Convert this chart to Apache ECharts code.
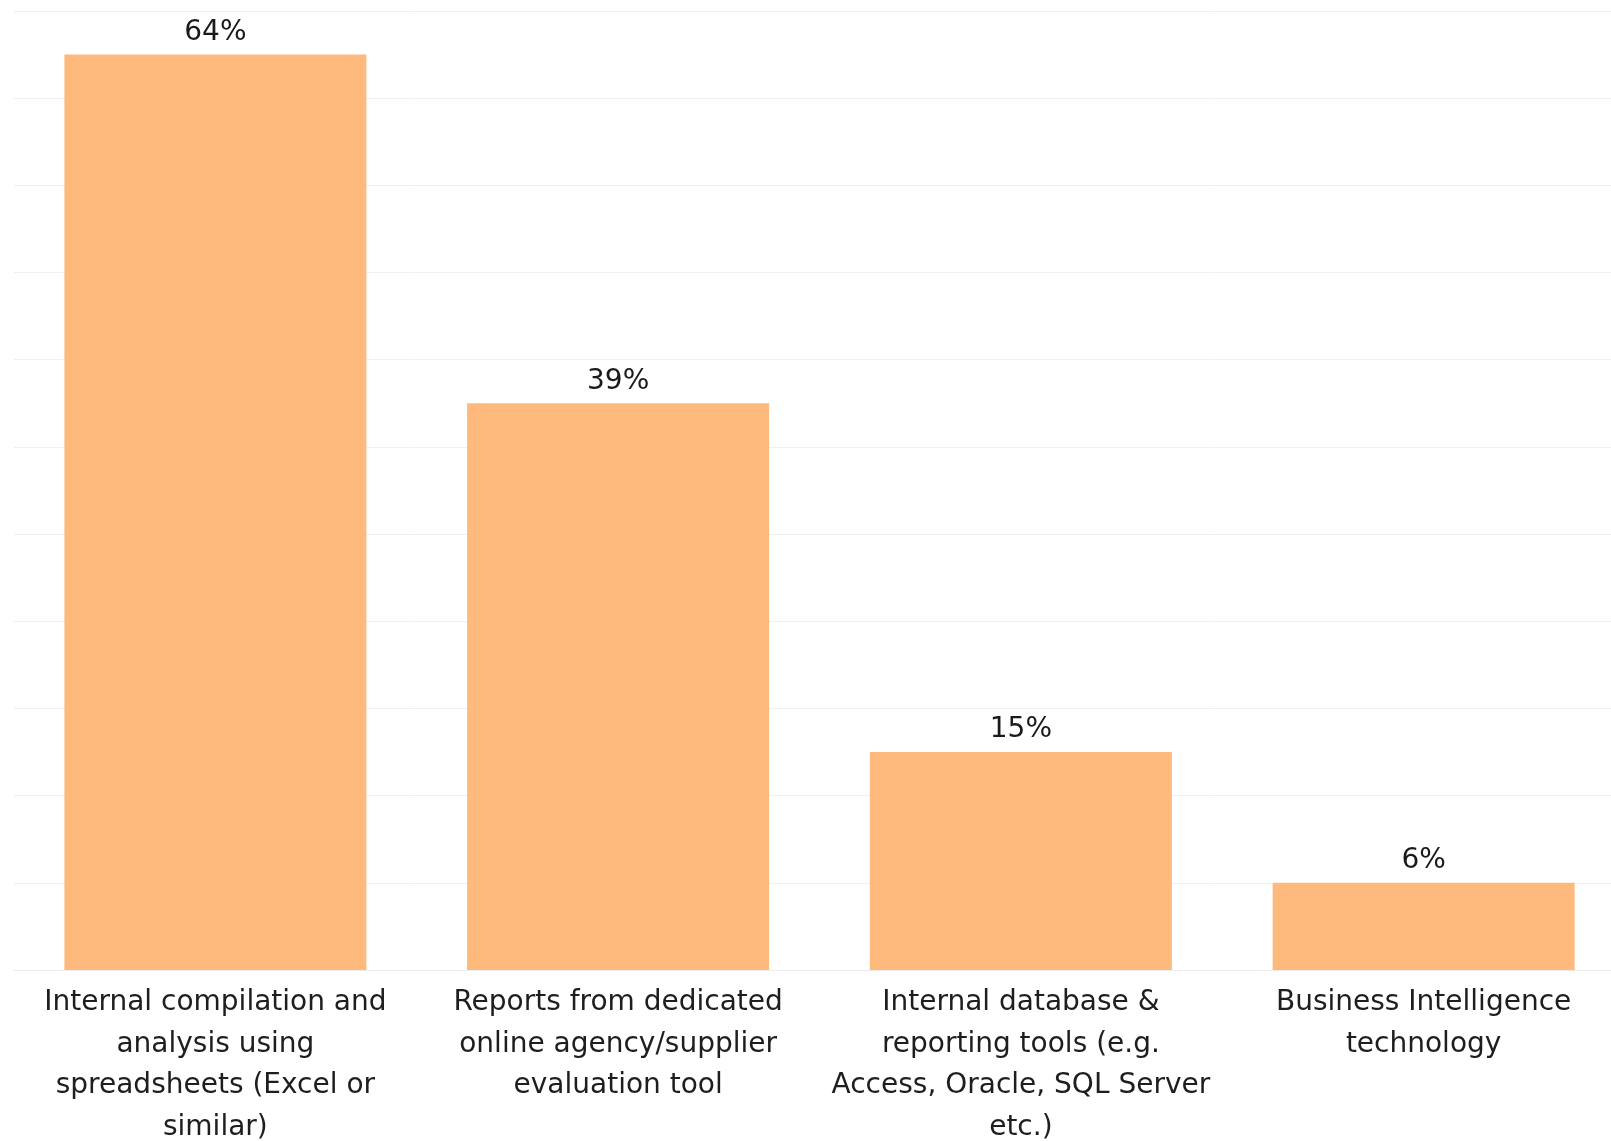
<!DOCTYPE html>
<html>
<head>
<meta charset="utf-8">
<script src="https://cdn.jsdelivr.net/npm/echarts@6/dist/echarts.min.js"></script>
<style>
html,body{margin:0;padding:0;background:#fff;}
#chart{width:1611px;height:1141px;}
</style>
</head>
<body>
<div id="chart"></div>
<script>
const categories = [
  'Internal compilation and\nanalysis using\nspreadsheets (Excel or\nsimilar)',
  'Reports from dedicated\nonline agency/supplier\nevaluation tool',
  'Internal database &\nreporting tools (e.g.\nAccess, Oracle, SQL Server\netc.)',
  'Business Intelligence\ntechnology'
];
const values = [63, 39, 15, 6];
const valueLabels = ['64%', '39%', '15%', '6%'];

const chart = echarts.init(document.getElementById('chart'));
chart.setOption({
  animation: false,
  backgroundColor: '#ffffff',
  grid: { left: 14, width: 1611, top: 11, bottom: 171, containLabel: false, outerBoundsMode: 'none' },
  xAxis: {
    type: 'category',
    data: categories,
    axisLine: { show: true, lineStyle: { color: '#ececec', width: 1 } },
    axisTick: { show: false },
    axisLabel: {
      interval: 0,
      margin: 12,
      fontFamily: 'DejaVu Sans',
      fontSize: 28,
      lineHeight: 41.5,
      color: '#1e1e1e'
    }
  },
  yAxis: {
    type: 'value',
    min: 0,
    max: 66,
    interval: 6,
    axisLine: { show: false },
    axisTick: { show: false },
    axisLabel: { show: false },
    splitLine: { show: true, lineStyle: { color: '#f0f0f0', width: 1 } }
  },
  series: [{
    type: 'bar',
    data: values,
    barWidth: 302,
    itemStyle: { color: '#FDBA7C' },
    label: {
      show: true,
      position: 'top',
      distance: 8,
      fontFamily: 'DejaVu Sans',
      fontSize: 28,
      color: '#1a1a1a',
      formatter: p => valueLabels[p.dataIndex]
    }
  }]
});
</script>
</body>
</html>
